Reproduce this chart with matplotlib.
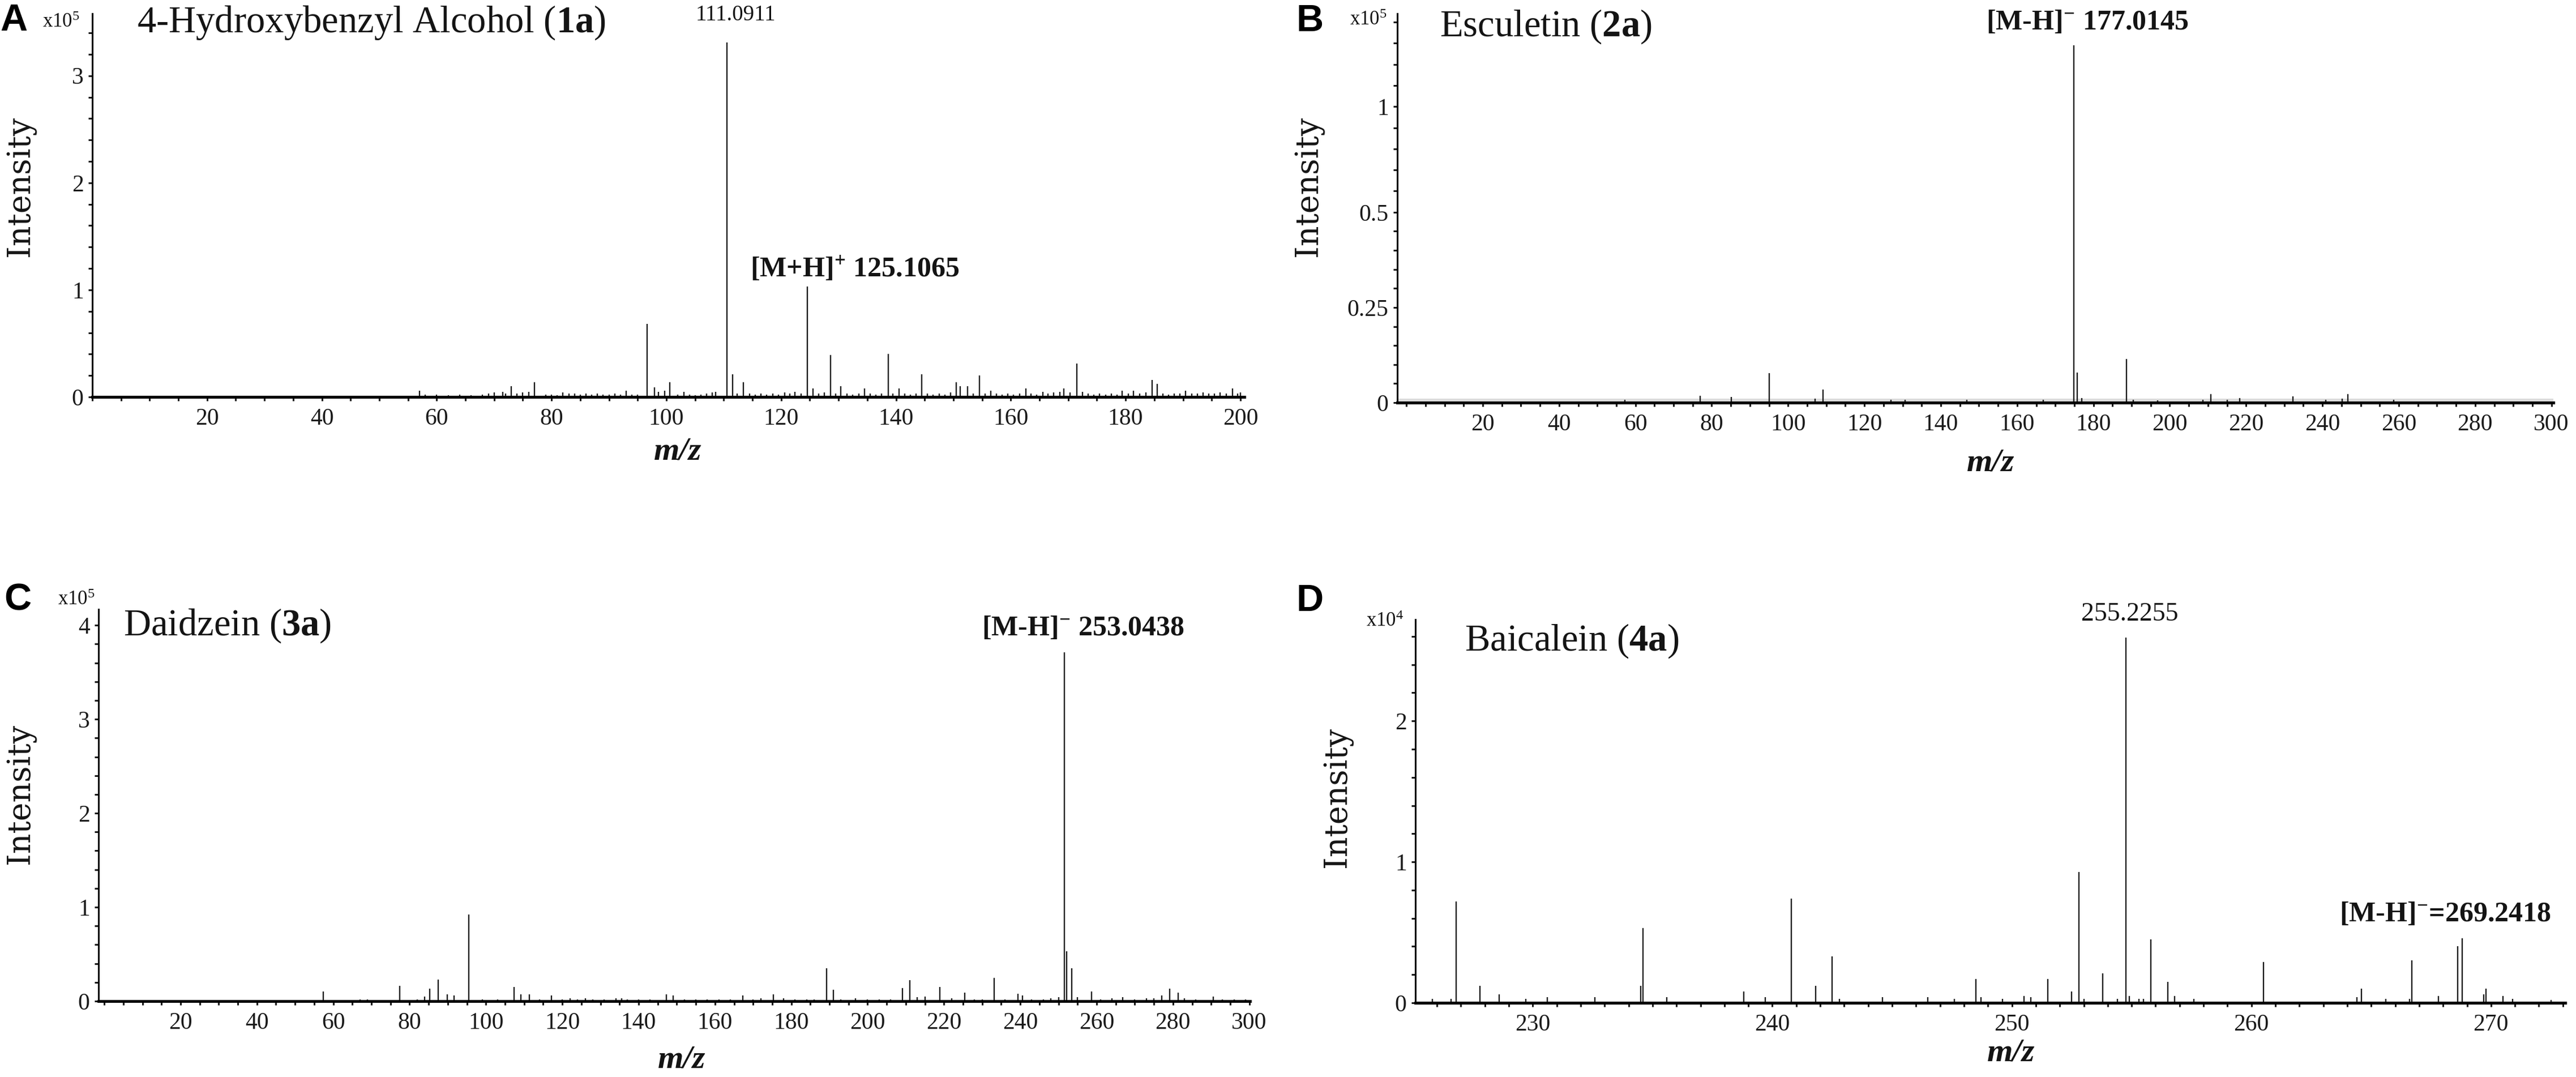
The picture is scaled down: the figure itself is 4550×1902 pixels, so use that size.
import numpy as np
import matplotlib
matplotlib.use('Agg')
import matplotlib.pyplot as plt
from matplotlib.ticker import MultipleLocator, FixedLocator

plt.rcParams['font.family'] = ['Liberation Serif', 'DejaVu Serif']
plt.rcParams['mathtext.fontset'] = 'custom'
plt.rcParams['mathtext.rm'] = 'Liberation Serif'
plt.rcParams['mathtext.it'] = 'Liberation Serif:italic'
plt.rcParams['mathtext.bf'] = 'Liberation Serif:bold'

# ---- data (m/z, intensity) ----
# A: 4-Hydroxybenzyl Alcohol, intensity x1e5
mz_a = [57.0, 58.0, 60.0, 62.0, 64.0, 66.0, 68.0, 69.0, 70.0, 71.5, 72.0, 73.0, 74.0, 75.0,
        76.0, 77.0, 79.0, 80.0, 81.0, 82.0, 83.0, 84.0, 85.0, 86.0, 87.0, 88.0, 89.0, 90.0,
        91.0, 92.0, 93.0, 94.0, 95.0, 96.7, 97.9, 98.6, 99.7, 100.6, 102.0, 103.1, 104.0,
        105.0, 106.0, 107.0, 108.0, 108.6, 110.6, 111.5, 112.3, 113.4, 114.5, 115.5, 116.5,
        117.5, 118.5, 119.5, 120.6, 121.5, 122.4, 123.5, 124.6, 125.5, 126.5, 127.5, 128.6,
        129.5, 130.4, 131.5, 132.5, 133.5, 134.5, 135.5, 136.5, 137.5, 138.7, 139.5, 140.5,
        141.5, 142.5, 143.5, 144.5, 145.5, 146.5, 147.5, 148.5, 149.5, 150.5, 151.2, 152.5,
        153.5, 154.5, 155.5, 156.5, 157.5, 158.5, 159.5, 160.5, 161.5, 162.6, 163.5, 164.5,
        165.6, 166.5, 167.5, 168.5, 169.2, 170.3, 171.5, 172.5, 173.5, 174.5, 175.5, 176.5,
        177.5, 178.5, 179.4, 180.5, 181.4, 182.5, 183.5, 184.6, 185.5, 186.5, 187.5, 188.5,
        189.5, 190.4, 191.5, 192.5, 193.5, 194.5, 195.5, 196.5, 197.5, 198.6, 199.5, 200.0]
int_a = [0.06, 0.02, 0.02, 0.015, 0.02, 0.015, 0.02, 0.03, 0.04, 0.05, 0.03, 0.10, 0.03, 0.04,
         0.05, 0.135, 0.02, 0.02, 0.015, 0.04, 0.03, 0.03, 0.02, 0.03, 0.02, 0.03, 0.02, 0.02,
         0.03, 0.02, 0.06, 0.02, 0.02, 0.68, 0.09, 0.05, 0.06, 0.14, 0.02, 0.05, 0.02,
         0.015, 0.02, 0.03, 0.04, 0.05, 3.31, 0.21, 0.03, 0.14, 0.03, 0.02, 0.03,
         0.02, 0.03, 0.02, 0.04, 0.03, 0.05, 0.03, 1.03, 0.08, 0.03, 0.04, 0.39,
         0.03, 0.10, 0.03, 0.02, 0.03, 0.08, 0.03, 0.02, 0.03, 0.40, 0.03, 0.08,
         0.03, 0.02, 0.03, 0.21, 0.03, 0.02, 0.03, 0.02, 0.04, 0.14, 0.10, 0.10,
         0.03, 0.20, 0.03, 0.06, 0.03, 0.02, 0.03, 0.02, 0.03, 0.08, 0.03, 0.02,
         0.05, 0.03, 0.04, 0.05, 0.08, 0.04, 0.31, 0.05, 0.03, 0.02, 0.03, 0.02,
         0.03, 0.02, 0.06, 0.03, 0.06, 0.03, 0.04, 0.16, 0.12, 0.03, 0.02, 0.03,
         0.03, 0.06, 0.03, 0.03, 0.04, 0.03, 0.03, 0.04, 0.03, 0.08, 0.03, 0.04]

# B: Esculetin, intensity x1e5
mz_b = [57.2, 76.9, 85.1, 95.0, 107.0, 109.2, 127.0, 130.7, 146.8, 166.8, 174.9, 175.8,
        177.0, 188.7, 190.4, 196.8, 208.7, 210.8, 215.0, 218.3, 232.3, 240.9, 245.2,
        246.7, 258.7]
int_b = [0.008, 0.018, 0.015, 0.077, 0.010, 0.034, 0.007, 0.007, 0.007, 0.007, 1.29, 0.079,
         0.012, 0.114, 0.008, 0.006, 0.008, 0.023, 0.008, 0.012, 0.016, 0.008, 0.010,
         0.022, 0.008]

# C: Daidzein, intensity x1e5
mz_c = [57.4, 67.0, 69.0, 77.4, 82.0, 83.9, 85.2, 87.5, 89.9, 91.6, 95.5, 99.0, 103.0,
        107.3, 109.2, 111.4, 114.0, 117.2, 120.0, 122.0, 124.0, 126.0, 128.0, 131.0, 134.0,
        135.5, 137.0, 140.0, 143.0, 147.3, 149.0, 152.0, 155.0, 158.0, 161.0, 164.0, 167.3,
        170.0, 172.0, 175.3, 178.0, 181.0, 184.0, 186.0, 189.2, 191.0, 193.0, 196.8, 200.0,
        203.0, 206.0, 209.2, 211.0, 213.0, 215.0, 218.9, 222.0, 225.4, 228.0, 230.0, 233.1,
        236.0, 239.4, 240.6, 243.0, 246.0, 248.0, 250.0, 251.6, 252.2, 253.5, 255.0, 258.7,
        261.0, 264.0, 266.9, 270.0, 273.0, 275.0, 277.0, 279.1, 281.3, 283.0, 286.0, 290.5,
        293.0, 296.0, 299.0]
int_c = [0.10, 0.02, 0.02, 0.165, 0.02, 0.05, 0.13, 0.23, 0.07, 0.06, 0.92, 0.02, 0.02,
         0.15, 0.07, 0.07, 0.02, 0.06, 0.02, 0.03, 0.02, 0.03, 0.02, 0.02, 0.03,
         0.03, 0.02, 0.02, 0.02, 0.07, 0.06, 0.02, 0.02, 0.02, 0.02, 0.02, 0.06,
         0.02, 0.03, 0.07, 0.03, 0.02, 0.02, 0.02, 0.35, 0.12, 0.02, 0.03, 0.02,
         0.02, 0.02, 0.14, 0.22, 0.04, 0.05, 0.15, 0.03, 0.09, 0.02, 0.02, 0.25,
         0.02, 0.08, 0.06, 0.02, 0.02, 0.03, 0.04, 3.71, 0.53, 0.35, 0.04, 0.10,
         0.02, 0.03, 0.04, 0.02, 0.03, 0.03, 0.06, 0.13, 0.09, 0.03, 0.02, 0.05,
         0.02, 0.02, 0.02]

# D: Baicalein, intensity x1e4
mz_d = [225.8, 226.6, 226.8, 227.8, 228.6, 229.7, 230.6, 232.6, 234.5, 234.6, 235.6, 238.8,
        239.7, 240.8, 241.8, 242.5, 242.8, 244.6, 246.5, 247.6, 248.5, 248.7, 249.6, 250.5,
        250.8, 251.5, 252.5, 252.8, 253.0, 253.8, 254.4, 254.76, 254.9, 255.3, 255.5, 255.8,
        256.5, 256.8, 257.6, 260.5, 264.4, 264.6, 265.6, 266.6, 266.7, 267.8, 268.6, 268.8,
        269.7, 269.8, 270.5, 270.9, 272.5]
int_d = [0.03, 0.03, 0.72, 0.12, 0.06, 0.03, 0.04, 0.04, 0.12, 0.53, 0.04, 0.08,
         0.04, 0.74, 0.12, 0.33, 0.03, 0.04, 0.04, 0.03, 0.17, 0.04, 0.03, 0.05,
         0.04, 0.17, 0.08, 0.93, 0.03, 0.21, 0.03, 2.59, 0.05, 0.03, 0.03, 0.45,
         0.15, 0.05, 0.03, 0.29, 0.04, 0.10, 0.03, 0.03, 0.30, 0.05, 0.40, 0.46,
         0.06, 0.10, 0.05, 0.03, 0.02]

W, H = 4550, 1902
fig = plt.figure(figsize=(W / 100, H / 100), dpi=100)


def fx(px):
    return px / W


def fy(py):
    return 1 - py / H


def style(ax, xlim, ylim, xmajor, xminor, yticks, ylabels, yminor):
    ax.set_xlim(*xlim)
    ax.set_ylim(*ylim)
    ax.spines['top'].set_visible(False)
    ax.spines['right'].set_visible(False)
    ax.spines['bottom'].set_linewidth(3.6)
    ax.spines['left'].set_linewidth(2.2)
    ax.xaxis.set_major_locator(MultipleLocator(xmajor))
    ax.xaxis.set_minor_locator(MultipleLocator(xminor))
    ax.yaxis.set_major_locator(FixedLocator(yticks))
    ax.set_yticklabels(ylabels)
    ax.yaxis.set_minor_locator(FixedLocator(yminor))
    ax.tick_params(axis='both', which='both', direction='out', length=5, width=2.2,
                   labelsize=30, color='#1a1a1a', labelcolor='#1a1a1a')
    ax.tick_params(axis='x', pad=9)
    ax.tick_params(axis='y', pad=6)


stick = dict(color='#1c1c1c', linewidth=1.7)

# ---- panel A ----
ax_a = fig.add_axes([fx(163), fy(701), fx(2198 - 163), (701 - 24) / H])
ax_a.vlines(mz_a, 0, int_a, **stick)
style(ax_a, (0, 200.7), (0, 3.58), 20, 5, [0, 1, 2, 3], ['0', '1', '2', '3'],
      [0.2 * i for i in range(18)])
ax_a.xaxis.set_major_locator(FixedLocator(list(range(20, 201, 20))))

# ---- panel B (compressed above 0.5) ----
k_b = 0.555


def fwd_b(y):
    y = np.asarray(y, dtype=float)
    return np.where(y <= 0.5, y, 0.5 + (y - 0.5) * k_b)


def inv_b(v):
    v = np.asarray(v, dtype=float)
    return np.where(v <= 0.5, v, 0.5 + (v - 0.5) / k_b)


ax_b = fig.add_axes([fx(2468), fy(711), fx(4510 - 2468), (711 - 24) / H])
ax_b.set_yscale('function', functions=(fwd_b, inv_b))
ax_b.axhspan(0, 0.011, color='#dcdcdc', lw=0)
ax_b.vlines(mz_b, 0, int_b, **stick)
style(ax_b, (-2.4, 300.5), (0, 1.44), 20, 5, [0, 0.25, 0.5, 1], ['0', '0.25', '0.5', '1'],
      [0.05 * i for i in range(11)] + [0.6, 0.7, 0.8, 0.9, 1.1, 1.2, 1.3, 1.4])
ax_b.xaxis.set_major_locator(FixedLocator(list(range(20, 301, 20))))

# ---- panel C ----
ax_c = fig.add_axes([fx(174), fy(1768), fx(2208 - 174), (1768 - 1076) / H])
ax_c.vlines(mz_c, 0, int_c, **stick)
style(ax_c, (-1.5, 300.2), (0, 4.17), 20, 5, [0, 1, 2, 3, 4], ['0', '1', '2', '3', '4'],
      [0.2 * i for i in range(21)])
ax_c.xaxis.set_major_locator(FixedLocator(list(range(20, 301, 20))))

# ---- panel D ----
ax_d = fig.add_axes([fx(2500), fy(1771), fx(4531 - 2500), (1771 - 1094) / H])
ax_d.vlines(mz_d, 0, int_d, **stick)
style(ax_d, (225.1, 273.1), (0, 2.72), 10, 1, [0, 1, 2], ['0', '1', '2'],
      [0.2 * i for i in range(14)])

# ---- texts ----
ink = '#141414'
letter = dict(fontsize=48, fontweight='bold', family=['Liberation Sans', 'DejaVu Sans'],
              va='center', ha='left', color='black')
title = dict(fontsize=48, ha='left', va='baseline', color=ink)
anno = dict(fontsize=36, fontweight='bold', ha='left', va='baseline', color=ink)
mzlab = dict(fontsize=42, fontweight='bold', fontstyle='italic', ha='center', va='center',
             color=ink)
ylab = dict(fontsize=40, family=['DejaVu Serif'], rotation=90, ha='center', va='center',
            color=ink)
scale = dict(fontsize=25, ha='left', va='center', color=ink)

# A
fig.text(fx(0), fy(37), 'A', **letter)
fig.text(fx(75), fy(40), r'x10$^{5}$', **scale)
fig.text(fx(242), fy(57), r'4-Hydroxybenzyl Alcohol ($\mathbf{1a}$)', **title)
fig.text(fx(1299), fy(26), '111.0911', fontsize=28, ha='center', va='center', color=ink)
fig.text(fx(1325), fy(488), r'[M+H]$^{\mathbf{+}}$ 125.1065', **anno)
fig.text(fx(1197), fy(797), 'm/z', **mzlab)
fig.text(fx(36), fy(329), 'Intensity', **ylab)

# B
fig.text(fx(2290), fy(38), 'B', **letter)
fig.text(fx(2384), fy(35), r'x10$^{5}$', **scale)
fig.text(fx(2543), fy(64), r'Esculetin ($\mathbf{2a}$)', **title)
fig.text(fx(3508), fy(52), r'[M-H]$^{\mathbf{-}}$ 177.0145', **anno)
fig.text(fx(3516), fy(817), 'm/z', **mzlab)
fig.text(fx(2311), fy(329), 'Intensity', **ylab)

# C
fig.text(fx(7), fy(1060), 'C', **letter)
fig.text(fx(102), fy(1060), r'x10$^{5}$', **scale)
fig.text(fx(218), fy(1122), r'Daidzein ($\mathbf{3a}$)', **title)
fig.text(fx(1734), fy(1122), r'[M-H]$^{\mathbf{-}}$ 253.0438', **anno)
fig.text(fx(1204), fy(1872), 'm/z', **mzlab)
fig.text(fx(36), fy(1402), 'Intensity', **ylab)

# D
fig.text(fx(2290), fy(1062), 'D', **letter)
fig.text(fx(2413), fy(1097), r'x10$^{4}$', **scale)
fig.text(fx(2587), fy(1149), r'Baicalein ($\mathbf{4a}$)', **title)
fig.text(fx(3762), fy(1085), '255.2255', fontsize=33, ha='center', va='center', color=ink)
fig.text(fx(4132), fy(1627), r'[M-H]$^{\mathbf{-}}$=269.2418', **anno)
fig.text(fx(3552), fy(1860), 'm/z', **mzlab)
fig.text(fx(2362), fy(1408), 'Intensity', **ylab)

fig.savefig('out.png', dpi=100, facecolor='white')
